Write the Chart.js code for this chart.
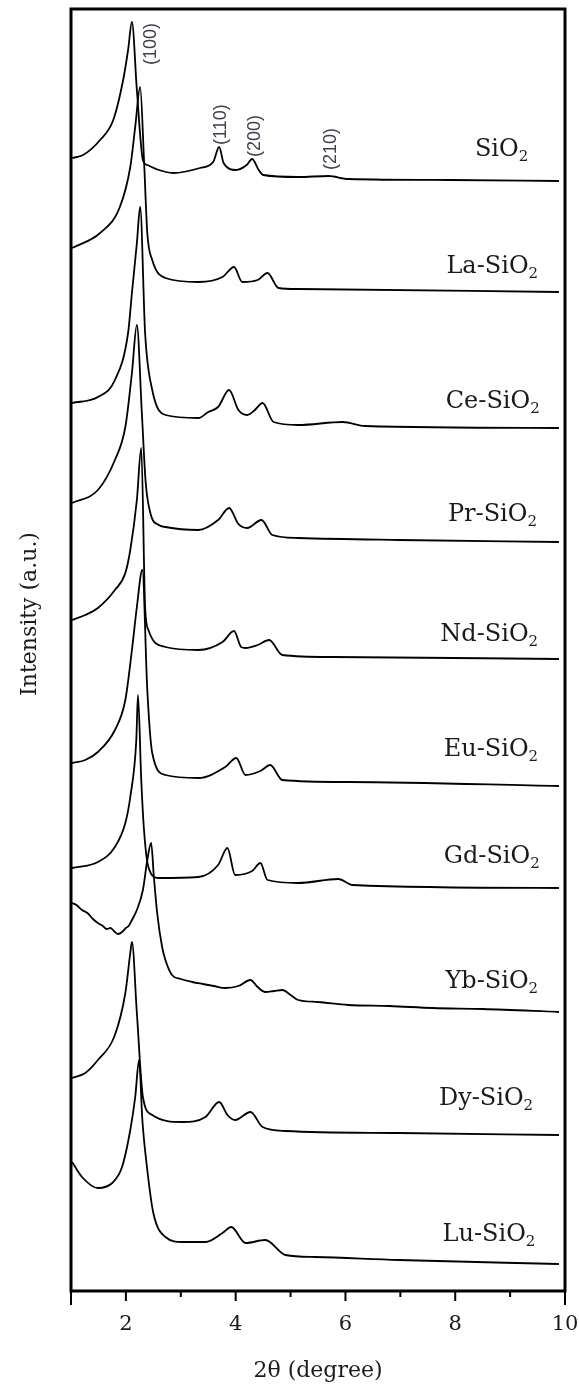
<!DOCTYPE html>
<html>
<head>
<meta charset="utf-8">
<script src="https://cdn.jsdelivr.net/npm/chart.js@4.4.1/dist/chart.umd.min.js"></script>
<style>
  html, body { margin: 0; padding: 0; background: #fff; }
</style>
</head>
<body>
<canvas id="xrd" width="579" height="1386"></canvas>
<script>
// sample names (formula part + subscript handled when drawing)
const samples = ['SiO2', 'La-SiO2', 'Ce-SiO2', 'Pr-SiO2', 'Nd-SiO2', 'Eu-SiO2', 'Gd-SiO2', 'Yb-SiO2', 'Dy-SiO2', 'Lu-SiO2'];

// vertical offset of each pattern (a.u.)
const offsets = [1110, 999, 863, 749, 632, 505, 403, 279, 156, 27];

// [2theta, intensity above own baseline]
const siO2 = [[1.02, 23], [1.22, 26], [1.53, 41], [1.77, 61], [1.95, 101], [2.04, 131], [2.11, 159], [2.20, 91], [2.31, 21], [2.39, 16], [2.60, 11], [2.86, 8], [3.35, 13], [3.59, 19], [3.70, 34], [3.78, 18], [4.01, 11], [4.20, 16], [4.30, 22], [4.42, 11], [4.50, 6], [5.14, 4], [5.69, 5], [6.05, 2], [7.90, 1], [9.89, 0]];
const laSiO2 = [[1.02, 44], [1.53, 59], [1.89, 85], [2.08, 125], [2.17, 165], [2.26, 205], [2.33, 132], [2.39, 59], [2.48, 32], [2.72, 14], [3.32, 10], [3.76, 15], [3.97, 25], [4.12, 10], [4.40, 12], [4.58, 19], [4.78, 4], [5.14, 3], [9.89, 0]];
const ceSiO2 = [[1.02, 25], [1.49, 31], [1.80, 48], [2.04, 95], [2.11, 135], [2.20, 185], [2.26, 221], [2.35, 95], [2.48, 38], [2.72, 13], [3.32, 10], [3.50, 16], [3.68, 21], [3.88, 38], [4.05, 18], [4.21, 13], [4.35, 18], [4.49, 25], [4.69, 6], [5.14, 3], [5.95, 6], [6.36, 2], [9.89, 0]];
const prSiO2 = [[1.02, 39], [1.49, 52], [1.80, 82], [1.99, 115], [2.11, 169], [2.20, 217], [2.29, 130], [2.36, 60], [2.45, 28], [2.60, 17], [2.72, 15], [3.32, 12], [3.68, 22], [3.88, 34], [4.05, 18], [4.21, 14], [4.47, 22], [4.67, 7], [5.14, 4], [6.97, 2], [9.89, 0]];
const ndSiO2 = [[1.02, 39], [1.26, 44], [1.49, 51], [1.80, 69], [1.99, 86], [2.08, 109], [2.20, 159], [2.28, 211], [2.35, 52], [2.41, 29], [2.72, 12], [3.32, 9], [3.76, 17], [3.97, 28], [4.10, 12], [4.18, 11], [4.40, 14], [4.61, 19], [4.85, 4], [5.76, 2], [9.89, 0]];
const euSiO2 = [[1.02, 23], [1.26, 26], [1.49, 34], [1.80, 56], [1.99, 86], [2.11, 136], [2.20, 179], [2.30, 216], [2.39, 96], [2.48, 33], [2.72, 11], [3.32, 8], [3.81, 19], [4.01, 28], [4.18, 11], [4.45, 15], [4.63, 21], [4.85, 6], [6.05, 4], [9.89, 0]];
const gdSiO2 = [[1.02, 20], [1.49, 26], [1.80, 41], [1.99, 65], [2.08, 91], [2.19, 148], [2.22, 193], [2.28, 108], [2.33, 58], [2.41, 21], [2.59, 10], [3.32, 11], [3.68, 23], [3.85, 40], [3.99, 13], [4.30, 17], [4.45, 25], [4.58, 8], [5.14, 5], [5.87, 9], [6.13, 3], [9.89, 0]];
const ybSiO2 = [[1.02, 109], [1.10, 107], [1.20, 102], [1.30, 99], [1.40, 93], [1.49, 89], [1.58, 86], [1.65, 83], [1.72, 84], [1.80, 80], [1.86, 78], [1.93, 80], [2.00, 84], [2.05, 86], [2.11, 92], [2.20, 102], [2.31, 122], [2.39, 152], [2.46, 169], [2.51, 135], [2.57, 99], [2.66, 65], [2.72, 52], [2.84, 37], [3.00, 33], [3.21, 30], [3.40, 28], [3.60, 26], [3.81, 24], [4.05, 26], [4.27, 32], [4.40, 25], [4.54, 20], [4.70, 21], [4.85, 22], [5.00, 17], [5.14, 12], [5.50, 10], [6.05, 7], [6.80, 6], [7.59, 4], [8.50, 3], [9.89, 0]];
const dySiO2 = [[1.02, 57], [1.26, 62], [1.49, 75], [1.80, 100], [1.99, 142], [2.08, 182], [2.11, 193], [2.20, 122], [2.31, 38], [2.48, 20], [3.03, 13], [3.45, 18], [3.70, 33], [3.85, 20], [3.99, 15], [4.27, 23], [4.49, 8], [4.91, 4], [6.97, 2], [9.89, 0]];
const luSiO2 = [[1.02, 102], [1.20, 87], [1.49, 76], [1.75, 81], [1.93, 97], [2.08, 134], [2.17, 167], [2.24, 204], [2.30, 144], [2.39, 94], [2.50, 51], [2.72, 27], [3.03, 22], [3.45, 22], [3.76, 31], [3.92, 37], [4.18, 21], [4.54, 24], [4.91, 9], [5.45, 7], [6.97, 4], [9.89, 0]];

const patterns = [siO2, laSiO2, ceSiO2, prSiO2, ndSiO2, euSiO2, gdSiO2, ybSiO2, dySiO2, luSiO2];

const xTicks = [2, 4, 6, 8, 10];
const millerIdx = ['(100)', '(110)', '(200)', '(210)'];
const millerPeaks = [2.46, 3.74, 4.36, 5.73];

// where the text goes (kept apart from the data)
const millerBase = [1226, 1146, 1134, 1121];
const labelRight = [9.33, 9.51, 9.54, 9.49, 9.51, 9.51, 9.54, 9.51, 9.42, 9.46];
const labelGap = [25, 19, 20, 21, 18, 30, 25, 24, 30, 23];

const datasets = patterns.map((pts, i) => ({
  label: samples[i],
  data: pts.map(p => ({ x: p[0], y: p[1] + offsets[i] })),
  borderColor: '#000',
  borderWidth: 1.8,
  pointRadius: 0,
  fill: false,
  cubicInterpolationMode: 'monotone'
}));

const decorations = {
  id: 'decorations',
  afterDraw(chart) {
    const { ctx, chartArea: a, scales: { x, y } } = chart;
    ctx.save();

    // frame
    ctx.strokeStyle = '#000';
    ctx.lineWidth = 3;
    ctx.strokeRect(a.left, a.top, a.right - a.left, a.bottom - a.top);

    // tick marks below the axis
    ctx.lineWidth = 2;
    for (let v = 1; v <= 10; v++) {
      const px = x.getPixelForValue(v);
      const len = (v === 1 || v === 10) ? 14 : (v % 2 === 0 ? 10 : 6);
      ctx.beginPath();
      ctx.moveTo(px, a.bottom);
      ctx.lineTo(px, a.bottom + len);
      ctx.stroke();
    }

    // y title
    ctx.fillStyle = '#1a1a1a';
    ctx.font = '22px "DejaVu Serif"';
    ctx.textAlign = 'center';
    ctx.textBaseline = 'middle';
    ctx.save();
    ctx.translate(30, 614);
    ctx.rotate(-Math.PI / 2);
    ctx.fillText('Intensity (a.u.)', 0, 0);
    ctx.restore();

    // miller indices
    ctx.fillStyle = '#3d4052';
    ctx.font = '18px "Liberation Sans"';
    ctx.textAlign = 'left';
    millerIdx.forEach((t, i) => {
      ctx.save();
      ctx.translate(x.getPixelForValue(millerPeaks[i]), y.getPixelForValue(millerBase[i]));
      ctx.rotate(-Math.PI / 2);
      ctx.fillText(t, 0, 0);
      ctx.restore();
    });

    // sample names with subscript 2
    ctx.fillStyle = '#1a1a1a';
    ctx.textBaseline = 'alphabetic';
    samples.forEach((s, i) => {
      const main = s.slice(0, -1);
      ctx.font = '24px "DejaVu Serif"';
      const wMain = ctx.measureText(main).width;
      ctx.font = '15px "DejaVu Serif"';
      const wSub = ctx.measureText('2').width;
      const right = x.getPixelForValue(labelRight[i]);
      const base = y.getPixelForValue(offsets[i] + labelGap[i]);
      const x0 = right - wMain - wSub;
      ctx.font = '24px "DejaVu Serif"';
      ctx.fillText(main, x0, base);
      ctx.font = '15px "DejaVu Serif"';
      ctx.fillText('2', x0 + wMain, base + 5);
    });

    ctx.restore();
  }
};

new Chart(document.getElementById('xrd'), {
  type: 'line',
  data: { datasets },
  plugins: [decorations],
  options: {
    responsive: false,
    animation: false,
    layout: { padding: { top: 9, right: 14, left: 0, bottom: 0 } },
    plugins: { legend: { display: false }, tooltip: { enabled: false } },
    scales: {
      x: {
        type: 'linear',
        min: 1,
        max: 10,
        afterFit: s => { s.height = 95; s.paddingLeft = 0; s.paddingRight = 0; },
        afterBuildTicks: s => { s.ticks = xTicks.map(v => ({ value: v })); },
        grid: { display: false, drawTicks: false },
        border: { display: false },
        ticks: {
          color: '#1a1a1a',
          font: { family: 'DejaVu Serif', size: 21 },
          padding: 21,
          maxRotation: 0
        },
        title: {
          display: true,
          text: '2θ (degree)',
          color: '#1a1a1a',
          font: { family: 'DejaVu Serif', size: 22 },
          padding: { top: 0, bottom: 2 }
        }
      },
      y: {
        type: 'linear',
        min: 0,
        max: 1282,
        afterFit: s => { s.width = 71; },
        grid: { display: false },
        border: { display: false },
        ticks: { display: false }
      }
    }
  }
});
</script>
</body>
</html>
